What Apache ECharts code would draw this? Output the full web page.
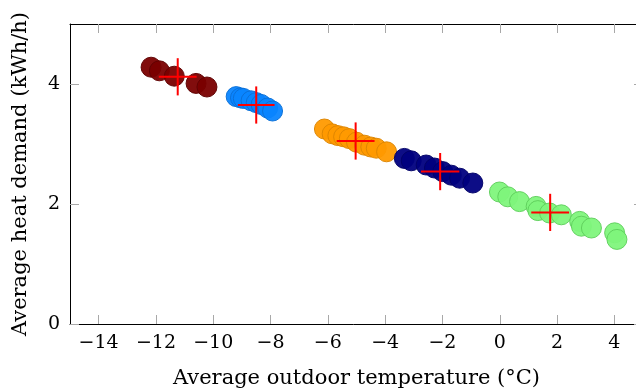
<!DOCTYPE html>
<html>
<head>
<meta charset="utf-8">
<script src="https://cdn.jsdelivr.net/npm/echarts@6/dist/echarts.min.js"></script>
<style>html,body{margin:0;padding:0;background:#fff}#c{width:636px;height:388px}</style>
</head>
<body>
<div id="c"></div>
<script>
// Cluster points [temperature, heat demand]
var darkRedPts = [[-12.17,4.28],[-11.88,4.22],[-11.36,4.13],[-10.60,4.01],[-10.22,3.95]];
var bluePts = [[-9.20,3.79],[-9.05,3.77],[-8.95,3.76],[-8.68,3.72],[-8.50,3.69],[-8.33,3.66],[-8.10,3.60],[-7.93,3.55]];
var orangePts = [[-6.12,3.25],[-5.85,3.17],[-5.65,3.14],[-5.45,3.12],[-5.25,3.09],[-5.00,3.03],[-4.72,2.98],[-4.50,2.95],[-4.31,2.93],[-3.95,2.87]];
var navyPts = [[-3.33,2.76],[-3.09,2.72],[-2.57,2.65],[-2.28,2.60],[-1.99,2.54],[-1.69,2.48],[-1.40,2.43],[-0.94,2.35]];
var greenPts = [[-0.01,2.20],[0.28,2.12],[0.69,2.04],[1.27,1.96],[1.33,1.89],[1.74,1.85],[2.15,1.82],[2.79,1.71],[2.85,1.63],[3.20,1.60],[4.01,1.52],[4.09,1.41]];
// Cluster means and spread (cross markers)
var crossX = [-11.24, -8.50, -5.03, -2.08, 1.76];
var crossY = [4.12, 3.65, 3.05, 2.54, 1.86];
var crossXHalf = [0.66, 0.64, 0.66, 0.67, 0.66];
var crossYHalf = [0.31, 0.31, 0.31, 0.31, 0.31];
// Tick labels
var xTicks = [-14,-12,-10,-8,-6,-4,-2,0,2,4];
var yTicks = [0,2,4];

var fontFam = '"DejaVu Serif", serif';
var tickColor = '#a8a8a8';
function fmt(v){ return v < 0 ? '\u2212' + Math.abs(v) : String(v); }

function scatter(data, fill, border){
  return {type:'scatter', data:data, symbolSize:20, xAxisIndex:0, yAxisIndex:0,
    itemStyle:{color:fill, borderColor:border, borderWidth:1, opacity:0.95}, z:2};
}
var crossData = crossX.map(function(x,i){ return [x, crossY[i], crossXHalf[i], crossYHalf[i]]; });

var chart = echarts.init(document.getElementById('c'), null, {renderer:'canvas'});
chart.setOption({
  animation:false,
  grid:{left:70, top:24, width:573, height:300, containLabel:false, outerBoundsMode:'none'},
  xAxis:[{
    type:'value', min:-15, max:5, position:'bottom',
    name:'Average outdoor temperature (\u00b0C)', nameLocation:'middle', nameGap:44,
    nameTextStyle:{fontFamily:fontFam, fontSize:21, color:'#000'},
    axisLine:{show:true, onZero:false, lineStyle:{color:'#000', width:1}},
    axisTick:{show:true, inside:true, length:9, customValues:xTicks, lineStyle:{color:tickColor}},
    axisLabel:{customValues:xTicks, formatter:fmt, margin:10, fontFamily:fontFam, fontSize:19, color:'#000'},
    splitLine:{show:false}
  },{
    type:'value', min:-15, max:5, position:'top',
    axisLine:{show:true, onZero:false, lineStyle:{color:'#000', width:1}},
    axisTick:{show:true, inside:true, length:9, customValues:xTicks, lineStyle:{color:tickColor}},
    axisLabel:{show:false}, splitLine:{show:false}
  }],
  yAxis:[{
    type:'value', min:0, max:5, position:'left',
    name:'Average heat demand (kWh/h)', nameLocation:'middle', nameGap:39, nameRotate:90,
    nameTextStyle:{fontFamily:fontFam, fontSize:21, color:'#000'},
    axisLine:{show:true, onZero:false, lineStyle:{color:'#000', width:1}},
    axisTick:{show:true, inside:true, length:9, customValues:yTicks, lineStyle:{color:tickColor}},
    axisLabel:{customValues:yTicks, formatter:fmt, margin:10, fontFamily:fontFam, fontSize:19, color:'#000'},
    splitLine:{show:false}
  },{
    type:'value', min:0, max:5, position:'right',
    axisLine:{show:false, onZero:false},
    axisTick:{show:true, inside:true, length:9, customValues:yTicks, lineStyle:{color:tickColor}},
    axisLabel:{show:false}, splitLine:{show:false}
  }],
  series:[
    scatter(darkRedPts, '#7a0000', '#5e0000'),
    scatter(bluePts, '#0a85ff', '#0a6fd6'),
    scatter(orangePts, '#ff9a00', '#dc8500'),
    scatter(navyPts, '#00007f', '#000066'),
    scatter(greenPts, '#80f57c', '#5fcf5c'),
    {
      type:'custom', data:crossData, z:5,
      renderItem:function(params, api){
        var x = api.value(0), y = api.value(1), hx = api.value(2), hy = api.value(3);
        var l = api.coord([x-hx, y]), r = api.coord([x+hx, y]);
        var t = api.coord([x, y+hy]), b = api.coord([x, y-hy]);
        var st = {stroke:'#ff0000', lineWidth:2};
        return {type:'group', children:[
          {type:'line', shape:{x1:l[0], y1:l[1], x2:r[0], y2:r[1]}, style:st},
          {type:'line', shape:{x1:t[0], y1:t[1], x2:b[0], y2:b[1]}, style:st}
        ]};
      }
    }
  ]
});
</script>
</body>
</html>
